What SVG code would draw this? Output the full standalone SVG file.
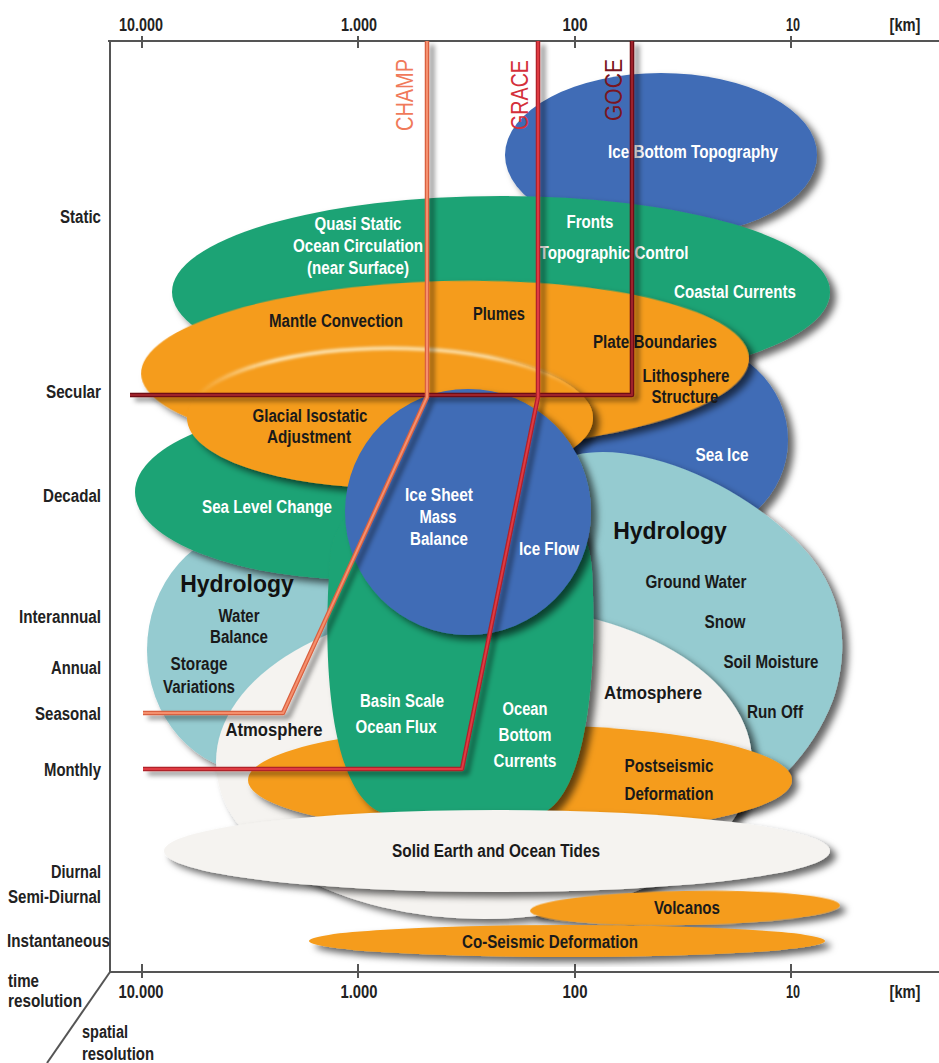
<svg xmlns="http://www.w3.org/2000/svg" width="939" height="1063" viewBox="0 0 939 1063">
<defs>
<filter id="sh" x="-20%" y="-20%" width="140%" height="150%">
<feDropShadow dx="6" dy="5" stdDeviation="3.5" flood-color="#000" flood-opacity="0.6"/>
</filter>
<filter id="lsh" x="-20%" y="-20%" width="140%" height="140%">
<feDropShadow dx="5" dy="4" stdDeviation="2.5" flood-color="#000" flood-opacity="0.45"/>
</filter>
<filter id="glow" x="-10%" y="-50%" width="120%" height="200%">
<feGaussianBlur stdDeviation="1.6"/>
</filter>
<linearGradient id="hl" x1="0" y1="0" x2="1" y2="0">
<stop offset="0" stop-color="#fff3d0" stop-opacity="0"/>
<stop offset="0.2" stop-color="#fff3d0" stop-opacity="0.9"/>
<stop offset="0.75" stop-color="#fff3d0" stop-opacity="0.8"/>
<stop offset="1" stop-color="#fff3d0" stop-opacity="0"/>
</linearGradient>
<style>
.t{font-family:'Liberation Sans','Arial',sans-serif;font-weight:bold;font-size:18px}
.ax{fill:#222;text-anchor:end}
.sc{fill:#222;text-anchor:middle}
.w{fill:#fff;text-anchor:middle}
.k{fill:#1a1a1a;text-anchor:middle}
.h{font-family:'Liberation Sans','Arial',sans-serif;font-weight:bold;font-size:23px;fill:#111;text-anchor:middle}
.m{font-family:'Liberation Sans','Arial',sans-serif;font-size:24px}
.blue{fill:#3f6cb6;filter:url(#sh)}
.green{fill:#1fa374;filter:url(#sh)}
.orange{fill:#f59c1c;filter:url(#sh)}
.teal{fill:#95cbd0;filter:url(#sh)}
.white{fill:#f5f3f0;filter:url(#sh)}
.axis{stroke:#555;stroke-width:2;fill:none}
.ln{fill:none;stroke-linejoin:round;stroke-linecap:butt}
</style>
</defs>
<rect width="939" height="1063" fill="#fff"/>

<g id="axes">
<line class="axis" x1="108" y1="41" x2="939" y2="41"/>
<line class="axis" x1="110" y1="41" x2="110" y2="972"/>
<line class="axis" x1="110" y1="972" x2="939" y2="972"/>
<line class="axis" x1="110" y1="972" x2="47" y2="1063" stroke-width="1.5"/>
<g class="axis">
<line x1="142" y1="36" x2="142" y2="48"/><line x1="358" y1="36" x2="358" y2="48"/><line x1="575" y1="36" x2="575" y2="48"/><line x1="791" y1="36" x2="791" y2="48"/>
<line x1="142" y1="964" x2="142" y2="978"/><line x1="358" y1="964" x2="358" y2="978"/><line x1="575" y1="964" x2="575" y2="978"/><line x1="791" y1="964" x2="791" y2="978"/>
</g>
<g class="t sc" lengthAdjust="spacingAndGlyphs">
<text x="141" y="31" textLength="44" lengthAdjust="spacingAndGlyphs">10.000</text>
<text x="359" y="31" textLength="36" lengthAdjust="spacingAndGlyphs">1.000</text>
<text x="575" y="31" textLength="25" lengthAdjust="spacingAndGlyphs">100</text>
<text x="793" y="31" textLength="14" lengthAdjust="spacingAndGlyphs">10</text>
<text x="905" y="31" textLength="31" lengthAdjust="spacingAndGlyphs">[km]</text>
<text x="141" y="998" textLength="45" lengthAdjust="spacingAndGlyphs">10.000</text>
<text x="359" y="998" textLength="37" lengthAdjust="spacingAndGlyphs">1.000</text>
<text x="575" y="998" textLength="25" lengthAdjust="spacingAndGlyphs">100</text>
<text x="793" y="998" textLength="14" lengthAdjust="spacingAndGlyphs">10</text>
<text x="905" y="998" textLength="31" lengthAdjust="spacingAndGlyphs">[km]</text>
</g>
<g class="t ax">
<text x="101" y="223" textLength="41" lengthAdjust="spacingAndGlyphs">Static</text>
<text x="101" y="398" textLength="55" lengthAdjust="spacingAndGlyphs">Secular</text>
<text x="101" y="502" textLength="58" lengthAdjust="spacingAndGlyphs">Decadal</text>
<text x="101" y="623" textLength="82" lengthAdjust="spacingAndGlyphs">Interannual</text>
<text x="101" y="674" textLength="50" lengthAdjust="spacingAndGlyphs">Annual</text>
<text x="101" y="720" textLength="66" lengthAdjust="spacingAndGlyphs">Seasonal</text>
<text x="101" y="776" textLength="57" lengthAdjust="spacingAndGlyphs">Monthly</text>
<text x="101" y="878" textLength="50" lengthAdjust="spacingAndGlyphs">Diurnal</text>
<text x="101" y="903" textLength="93" lengthAdjust="spacingAndGlyphs">Semi-Diurnal</text>
<text x="110" y="947" textLength="103" lengthAdjust="spacingAndGlyphs">Instantaneous</text>
</g>
<g class="t" fill="#222">
<text x="8" y="987" textLength="31" lengthAdjust="spacingAndGlyphs">time</text>
<text x="8" y="1007" textLength="74" lengthAdjust="spacingAndGlyphs">resolution</text>
<text x="82" y="1038" textLength="46" lengthAdjust="spacingAndGlyphs">spatial</text>
<text x="82" y="1060" textLength="72" lengthAdjust="spacingAndGlyphs">resolution</text>
</g>
</g>

<g id="ice-bottom-topography">
<ellipse class="blue" cx="661" cy="155" rx="156" ry="82"/>
<text class="t w" x="693" y="158" textLength="170" lengthAdjust="spacingAndGlyphs">Ice Bottom Topography</text>
</g>

<g id="sea-ice">
<ellipse class="blue" cx="680" cy="440" rx="108" ry="100"/>
</g>

<g id="quasi-static-ocean-circulation">
<ellipse class="green" cx="501" cy="292" rx="329" ry="96"/>
<text class="t w" x="358" y="230" textLength="87" lengthAdjust="spacingAndGlyphs">Quasi Static</text>
<text class="t w" x="358" y="252" textLength="130" lengthAdjust="spacingAndGlyphs">Ocean Circulation</text>
<text class="t w" x="358" y="274" textLength="102" lengthAdjust="spacingAndGlyphs">(near Surface)</text>
<text class="t w" x="590" y="228" textLength="47" lengthAdjust="spacingAndGlyphs">Fronts</text>
<text class="t w" x="614" y="259" textLength="149" lengthAdjust="spacingAndGlyphs">Topographic Control</text>
<text class="t w" x="735" y="298" textLength="122" lengthAdjust="spacingAndGlyphs">Coastal Currents</text>
</g>

<g id="hydrology-left">
<ellipse class="teal" cx="255" cy="650" rx="108" ry="122"/>
</g>

<g id="sea-level-change">
<ellipse class="green" cx="366" cy="492" rx="231" ry="88"/>
</g>

<g id="mantle-convection">
<ellipse class="orange" cx="445" cy="366" rx="304" ry="85" transform="rotate(-1.5 445 366)"/>
<text class="t k" x="336" y="327" textLength="134" lengthAdjust="spacingAndGlyphs">Mantle Convection</text>
<text class="t k" x="499" y="320" textLength="52" lengthAdjust="spacingAndGlyphs">Plumes</text>
<text class="t k" x="655" y="348" textLength="124" lengthAdjust="spacingAndGlyphs">Plate Boundaries</text>
<text class="t k" x="686" y="382" textLength="87" lengthAdjust="spacingAndGlyphs">Lithosphere</text>
<text class="t k" x="685" y="403" textLength="67" lengthAdjust="spacingAndGlyphs">Structure</text>
</g>

<g id="glacial-isostatic-adjustment">
<ellipse class="orange" cx="390" cy="418" rx="203" ry="70"/>
<path d="M194,400 A203,70 0 0 1 586,400" fill="none" stroke="url(#hl)" stroke-width="3.5" filter="url(#glow)"/>
<text class="t k" x="310" y="422" textLength="115" lengthAdjust="spacingAndGlyphs">Glacial Isostatic</text>
<text class="t k" x="309" y="443" textLength="84" lengthAdjust="spacingAndGlyphs">Adjustment</text>
</g>

<g id="sea-ice-label">
<text class="t w" x="722" y="461" textLength="53" lengthAdjust="spacingAndGlyphs">Sea Ice</text>
</g>
<g id="sea-level-label">
<text class="t w" x="267" y="513" textLength="130" lengthAdjust="spacingAndGlyphs">Sea Level Change</text>
</g>

<g id="hydrology-right">
<path class="teal" d="M576,455 C640,440 745,485 805,550 C845,595 850,650 833,700 C812,755 770,795 725,815 L600,770 L585,600 Z"/>
</g>

<g id="atmosphere">
<ellipse class="white" cx="484" cy="762" rx="268" ry="157"/>
</g>

<g id="postseismic-deformation">
<ellipse class="orange" cx="520" cy="780" rx="272" ry="55"/>
<text class="t k" x="669" y="772" textLength="89" lengthAdjust="spacingAndGlyphs">Postseismic</text>
<text class="t k" x="669" y="800" textLength="89" lengthAdjust="spacingAndGlyphs">Deformation</text>
</g>

<g id="ocean-flux">
<path class="green" d="M330,560 C322,660 330,790 380,812 C420,829 510,829 545,812 C585,790 598,680 592,570 C588,500 530,470 462,470 C395,470 334,500 330,560 Z"/>
<text class="t w" x="402" y="707" textLength="84" lengthAdjust="spacingAndGlyphs">Basin Scale</text>
<text class="t w" x="396" y="733" textLength="81" lengthAdjust="spacingAndGlyphs">Ocean Flux</text>
<text class="t w" x="525" y="715" textLength="45" lengthAdjust="spacingAndGlyphs">Ocean</text>
<text class="t w" x="525" y="741" textLength="53" lengthAdjust="spacingAndGlyphs">Bottom</text>
<text class="t w" x="525" y="767" textLength="63" lengthAdjust="spacingAndGlyphs">Currents</text>
</g>

<g id="ice-sheet-mass-balance">
<circle class="blue" cx="468" cy="512" r="123"/>
<text class="t w" x="439" y="501" textLength="68" lengthAdjust="spacingAndGlyphs">Ice Sheet</text>
<text class="t w" x="438" y="523" textLength="37" lengthAdjust="spacingAndGlyphs">Mass</text>
<text class="t w" x="439" y="545" textLength="58" lengthAdjust="spacingAndGlyphs">Balance</text>
<text class="t w" x="549" y="555" textLength="60" lengthAdjust="spacingAndGlyphs">Ice Flow</text>
</g>

<g id="labels-hydrology-atmosphere">
<text class="h" x="237" y="592">Hydrology</text>
<text class="t k" x="239" y="622" textLength="41" lengthAdjust="spacingAndGlyphs">Water</text>
<text class="t k" x="239" y="643" textLength="58" lengthAdjust="spacingAndGlyphs">Balance</text>
<text class="t k" x="199" y="670" textLength="57" lengthAdjust="spacingAndGlyphs">Storage</text>
<text class="t k" x="199" y="693" textLength="72" lengthAdjust="spacingAndGlyphs">Variations</text>
<text class="t k" x="274" y="736" textLength="97" lengthAdjust="spacingAndGlyphs">Atmosphere</text>
<text class="h" x="670" y="539">Hydrology</text>
<text class="t k" x="696" y="588" textLength="101" lengthAdjust="spacingAndGlyphs">Ground Water</text>
<text class="t k" x="725" y="628" textLength="41" lengthAdjust="spacingAndGlyphs">Snow</text>
<text class="t k" x="771" y="668" textLength="95" lengthAdjust="spacingAndGlyphs">Soil Moisture</text>
<text class="t k" x="653" y="699" textLength="98" lengthAdjust="spacingAndGlyphs">Atmosphere</text>
<text class="t k" x="775" y="718" textLength="56" lengthAdjust="spacingAndGlyphs">Run Off</text>
</g>

<g id="solid-earth-ocean-tides">
<ellipse class="white" cx="497" cy="851" rx="333" ry="41"/>
<text class="t k" x="496" y="857" textLength="208" lengthAdjust="spacingAndGlyphs">Solid Earth and Ocean Tides</text>
</g>

<g id="volcanos">
<ellipse class="orange" cx="685" cy="908" rx="155" ry="17" transform="rotate(-1 685 908)"/>
<text class="t k" x="687" y="914" textLength="66" lengthAdjust="spacingAndGlyphs">Volcanos</text>
</g>

<g id="co-seismic-deformation">
<ellipse class="orange" cx="567" cy="941" rx="258" ry="16"/>
<text class="t k" x="550" y="948" textLength="176" lengthAdjust="spacingAndGlyphs">Co-Seismic Deformation</text>
</g>

<g id="connectors">
<g filter="url(#lsh)">
<polyline class="ln" points="632,41 632,395 130,395" stroke="#6e1015" stroke-width="4.5"/>
<polyline class="ln" points="632,41 632,395 130,395" stroke="#9e2329" stroke-width="2"/>
<polyline class="ln" points="538,41 538,397 462,769 143,769" stroke="#b0202a" stroke-width="4.5"/>
<polyline class="ln" points="538,41 538,397 462,769 143,769" stroke="#df3a42" stroke-width="2"/>
<polyline class="ln" points="427,41 427,397 283,713 143,713" stroke="#d9603f" stroke-width="4.5"/>
<polyline class="ln" points="427,41 427,397 283,713 143,713" stroke="#f5906e" stroke-width="2"/>
</g>
<text class="m" fill="#f07a5a" transform="translate(413,131) rotate(-90)" textLength="72" lengthAdjust="spacingAndGlyphs">CHAMP</text>
<text class="m" fill="#d42f3a" transform="translate(528,130) rotate(-90)" textLength="70" lengthAdjust="spacingAndGlyphs">GRACE</text>
<text class="m" fill="#7a1520" transform="translate(622,121) rotate(-90)" textLength="62" lengthAdjust="spacingAndGlyphs">GOCE</text>
</g>
</svg>
